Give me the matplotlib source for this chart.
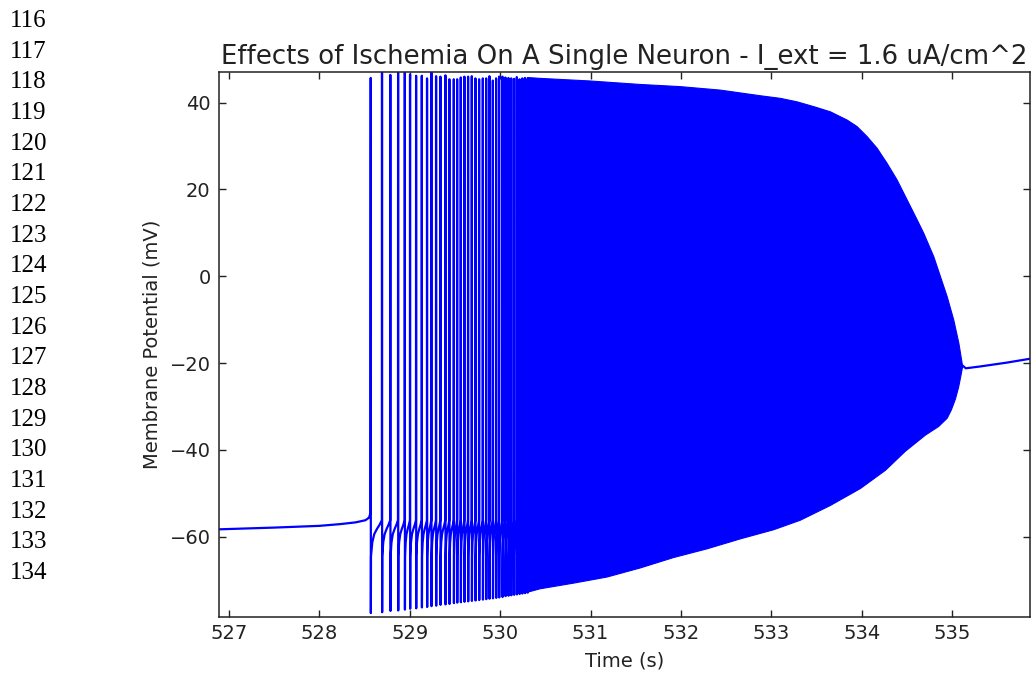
import numpy as np
import matplotlib
matplotlib.use("Agg")
import matplotlib.pyplot as plt

# ---------------- data ----------------
title = "Effects of Ischemia On A Single Neuron - I_ext = 1.6 uA/cm^2"
xlabel = "Time (s)"
ylabel = "Membrane Potential (mV)"
xticks = [527, 528, 529, 530, 531, 532, 533, 534, 535]
yticks = [-60, -40, -20, 0, 20, 40]
line_numbers = list(range(116, 135))

# resting potential before the first spike
baseline_t = [526.89, 527.5, 528.0, 528.23, 528.4, 528.51, 528.55, 528.565]
baseline_v = [-58.3, -57.9, -57.5, -57.1, -56.7, -56.2, -55.6, -54.5]

# individually visible spikes
spike_t = [528.568, 528.693, 528.785, 528.871, 528.945, 529.003, 529.070, 529.133,
           529.191, 529.239, 529.291, 529.339, 529.394, 529.438, 529.487, 529.524,
           529.564, 529.604, 529.645, 529.686, 529.726, 529.767, 529.808, 529.845,
           529.881, 529.919, 529.955, 529.988, 530.025, 530.058, 530.091, 530.122,
           530.153, 530.184, 530.214, 530.244, 530.274, 530.303]
spike_peak = [45.7, 47.2, 46.4, 47.0, 47.0, 46.5, 46.2, 46.2, 45.6, 47.0,
              46.1, 46.0, 46.3, 45.4, 45.4, 45.4, 45.8, 46.0, 46.0, 46.1,
              45.6, 45.4, 45.6, 45.6, 46.1, 45.1, 45.6, 46.0, 46.0, 45.8,
              45.7, 45.6, 45.5, 45.9, 45.4, 45.6, 45.7, 45.5]
spike_trough = [-77.6, -77.4, -77.1, -77.0, -76.8, -76.6, -76.5, -76.3, -76.2, -76.0,
                -75.9, -75.7, -75.6, -75.5, -75.3, -75.2, -75.1, -75.0, -74.9, -74.8,
                -74.7, -74.6, -74.5, -74.4, -74.3, -74.2, -74.1, -74.0, -73.9, -73.7,
                -73.6, -73.5, -73.4, -73.3, -73.2, -73.1, -73.0, -72.9]

# recovery between two spikes (fraction of the interval, potential)
isi_phase = [0.0, 0.12, 0.3, 0.55, 0.8, 1.0]
isi_v = [-64.5, -61.3, -59.4, -58.2, -57.2, -56.2]

# envelope of the dense firing band
upper_t = [530.30, 530.442, 530.996, 531.549, 531.992, 532.434, 532.877, 533.099,
           533.283, 533.467, 533.652, 533.837, 533.947, 534.058, 534.169, 534.280,
           534.390, 534.501, 534.612, 534.685, 534.796, 534.870, 534.944, 535.017,
           535.073, 535.109]
upper_v = [45.8, 45.6, 45.0, 44.2, 43.7, 42.9, 41.6, 41.0,
           40.2, 39.1, 37.9, 36.0, 34.5, 32.2, 29.5, 26.0,
           22.2, 17.6, 13.0, 9.9, 4.5, -0.1, -4.7, -10.1,
           -15.4, -20.0]
lower_t = [530.30, 530.442, 530.811, 531.180, 531.549, 531.918, 532.287, 532.656,
           533.024, 533.320, 533.652, 533.984, 534.261, 534.482, 534.703, 534.850,
           534.944, 534.990, 535.035, 535.070, 535.095, 535.113]
lower_v = [-72.8, -72.0, -70.7, -69.3, -67.2, -64.8, -62.8, -60.5,
           -58.4, -56.2, -52.8, -48.9, -44.7, -40.3, -36.6, -34.6,
           -32.7, -30.8, -28.3, -25.6, -23.0, -21.0]

# depolarisation block after firing stops
tail_t = [535.11, 535.15, 535.30, 535.60, 535.86]
tail_v = [-20.5, -21.2, -20.8, -19.9, -19.0]

# ---------------- figure ----------------
W, H = 1034, 673
fig = plt.figure(figsize=(W / 100, H / 100), dpi=100)
ax = fig.add_axes([219 / W, 56 / H, 811 / W, 545 / H])

blue = "#0000ff"

# build the early spike trace
tr_t = list(baseline_t)
tr_v = list(baseline_v)
n = len(spike_t)
for i in range(n):
    t0 = spike_t[i]
    tr_t += [t0, t0 + 0.0015, t0 + 0.003]
    tr_v += [spike_peak[i], spike_trough[i], isi_v[0]]
    if i < n - 1:
        dt = spike_t[i + 1] - t0
        for ph, v in zip(isi_phase[1:], isi_v[1:]):
            tr_t.append(t0 + 0.003 + ph * (dt - 0.0045))
            tr_v.append(v)
ax.plot(tr_t, tr_v, color=blue, lw=1.6)

# dense band
band_t = np.r_[np.array(upper_t), np.array(lower_t)[::-1]]
band_v = np.r_[np.array(upper_v), np.array(lower_v)[::-1]]
ax.fill(band_t, band_v, color=blue, lw=0.8, ec=blue)

ax.plot(tail_t, tail_v, color=blue, lw=1.6)

ax.set_xlim(526.89, 535.86)
ax.set_ylim(-78.5, 47.07)
ax.set_xticks(xticks)
ax.set_yticks(yticks)
ax.set_xticklabels([str(v) for v in xticks])
ax.set_yticklabels([("\u2212" + str(-v)) if v < 0 else str(v) for v in yticks])
ax.tick_params(direction="in", top=True, right=True, length=5, width=1,
               labelsize=14, colors="#222222")
ax.tick_params(axis="x", pad=5)
ax.tick_params(axis="y", pad=6)
for s in ax.spines.values():
    s.set_linewidth(1.1)
    s.set_color("#222222")

ax.set_title(title, fontsize=18.7, pad=6, color="#222222")
ax.set_xlabel(xlabel, fontsize=14, labelpad=6, color="#222222")
ax.set_ylabel(ylabel, fontsize=14, labelpad=6, color="#222222")

# document line numbers on the left
for k, num in enumerate(line_numbers):
    ybase = 27 + 30.67 * k
    fig.text(10 / W, 1 - ybase / H, str(num), family="Liberation Serif",
             fontsize=18, va="baseline", ha="left", color="black")

fig.savefig("out.png", dpi=100)
